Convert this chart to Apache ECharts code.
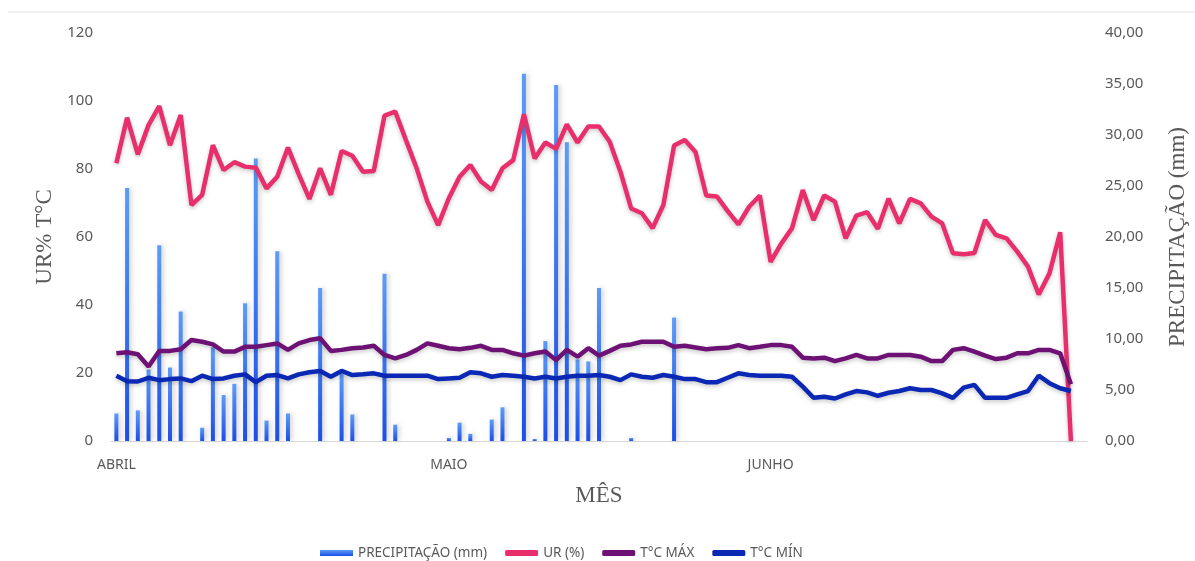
<!DOCTYPE html>
<html>
<head>
<meta charset="utf-8">
<title>UR, T°C e Precipitação</title>
<script src="https://cdn.jsdelivr.net/npm/echarts@6.0.0/dist/echarts.min.js"></script>
<style>
  html, body { margin: 0; padding: 0; background: #fff; }
  #chart { width: 1195px; height: 561px; }
</style>
</head>
<body>
<div id="chart"></div>
<script>
// dias do período (o último fica vazio, como na planilha)
const dias = Array.from({ length: 91 }, (_, i) => String(i + 1));
const mesInicio = [0, 31, 61];
const mesNome = ['ABRIL', 'MAIO', 'JUNHO'];

const precipitacao = [2.7, 24.8, 3.0, 7.0, 19.2, 7.2, 12.7, 0, 1.3, 9.2, 4.5, 5.6, 13.5, 27.7, 2.0, 18.6, 2.7, 0, 0, 15.0,
  0, 6.6, 2.6, 0, 0, 16.4, 1.6, 0, 0, 0, 0, 0.3, 1.8, 0.7, 0, 2.1, 3.3, 0, 36.0, 0.2,
  9.8, 34.9, 29.3, 8.0, 7.8, 15.0, 0, 0, 0.3, 0, 0, 0, 12.1, 0, 0, 0, 0, 0, 0, 0,
  0, 0, 0, 0, 0, 0, 0, 0, 0, 0, 0, 0, 0, 0, 0, 0, 0, 0, 0, 0,
  0, 0, 0, 0, 0, 0, 0, 0, 0, 0];

const ur = [81.7, 95.1, 84.3, 92.9, 98.5, 87, 95.9, 69.4, 72.4, 87, 79.7, 82, 80.7, 80.4, 74.3, 77.7, 86.3, 78.5, 71.2, 80.2,
  72.4, 85.3, 83.9, 79.2, 79.4, 95.7, 96.9, 88.5, 80.2, 70.4, 63.5, 71.4, 77.7, 81.2, 76.3, 73.8, 80.2, 82.6, 96.1, 83.1,
  87.8, 85.9, 93.1, 87.8, 92.5, 92.5, 88, 79.2, 68.4, 67, 62.6, 69.4, 86.9, 88.5, 85, 72.2, 71.9, 67.6, 63.7, 68.9,
  72.2, 52.7, 58.1, 62.6, 73.8, 65, 72.2, 70.4, 59.6, 66.3, 67.3, 62.4, 71.3, 64, 71.2, 69.9, 66, 64, 55.2, 54.9,
  55.3, 65, 60.6, 59.6, 55.7, 51.3, 43.1, 49.3, 61.4, 0];

const tMax = [25.8, 26.1, 25.5, 21.9, 26.5, 26.5, 27, 29.7, 29.2, 28.4, 26.3, 26.3, 27.7, 27.7, 28.2, 28.7, 26.8, 28.7, 29.7, 30.2,
  26.5, 26.8, 27.3, 27.5, 28, 25.3, 24.3, 25.3, 26.8, 28.7, 28, 27.3, 27, 27.4, 28, 26.8, 26.8, 25.8, 25.1, 25.8,
  26.3, 23.8, 26.8, 24.8, 27.3, 25.1, 26.5, 28, 28.4, 29.2, 29.2, 29.2, 27.7, 28, 27.5, 27, 27.3, 27.4, 28.2, 27.3,
  27.7, 28.2, 28.2, 27.7, 24.5, 24.3, 24.5, 23.5, 24.3, 25.3, 24.3, 24.3, 25.3, 25.3, 25.3, 24.8, 23.5, 23.5, 26.8, 27.3,
  26.3, 25.1, 24.1, 24.5, 25.8, 25.8, 26.8, 26.8, 25.8, 16.7];

const tMin = [19.2, 17.6, 17.5, 18.6, 17.9, 18.2, 18.4, 17.6, 19.2, 18.2, 18.4, 19.2, 19.6, 17.3, 19.2, 19.4, 18.4, 19.6, 20.2, 20.6,
  18.9, 20.6, 19.4, 19.6, 19.9, 19.2, 19.2, 19.2, 19.2, 19.2, 18.2, 18.4, 18.6, 20.2, 19.9, 18.9, 19.4, 19.2, 18.9, 18.4,
  18.9, 18.4, 18.9, 19.2, 19.2, 19.4, 18.9, 17.9, 19.6, 18.9, 18.6, 19.4, 18.9, 18.2, 18.2, 17.3, 17.3, 18.6, 19.9, 19.4,
  19.2, 19.2, 19.2, 18.9, 16, 12.7, 13, 12.5, 13.7, 14.7, 14.3, 13.3, 14.2, 14.7, 15.5, 15, 15, 14, 12.7, 15.7,
  16.5, 12.7, 12.7, 12.7, 13.7, 14.7, 19.2, 17, 15.5, 14.7];

const cinza = '#595959';
const serif = 'Liberation Serif';

const myChart = echarts.init(document.getElementById('chart'));

const lineShadow = {
  shadowColor: 'rgba(0,0,0,0.22)',
  shadowBlur: 4,
  shadowOffsetY: 2
};

myChart.setOption({
  animation: false,
  textStyle: { fontFamily: 'Noto Sans' },
  graphic: [
    {
      type: 'line',
      shape: { x1: 8, y1: 12, x2: 1195, y2: 12 },
      style: { stroke: '#e3e3e3', lineWidth: 1 },
      silent: true
    }
  ],
  legend: {
    left: 315,
    top: 541,
    itemWidth: 33,
    itemHeight: 6,
    itemGap: 18,
    textStyle: { color: cinza, fontSize: 13.5 },
    data: [
      { name: 'PRECIPITAÇÃO (mm)', icon: 'rect' },
      { name: 'UR (%)', icon: 'roundRect' },
      { name: 'T°C MÁX', icon: 'roundRect' },
      { name: 'T°C MÍN', icon: 'roundRect' }
    ]
  },
  grid: {
    left: 111,
    right: 108,
    top: 33,
    bottom: 120,
    outerBoundsMode: 'none'
  },
  xAxis: {
    type: 'category',
    data: dias,
    name: 'MÊS',
    nameLocation: 'middle',
    nameGap: 43,
    nameTextStyle: { fontFamily: serif, fontSize: 23, color: cinza },
    axisLine: { lineStyle: { color: '#d9d9d9' } },
    axisTick: { show: false },
    axisLabel: {
      interval: 0,
      margin: 17,
      color: cinza,
      fontSize: 14,
      formatter: function (v, idx) {
        const k = mesInicio.indexOf(idx);
        return k >= 0 ? mesNome[k] : '';
      }
    }
  },
  yAxis: [
    {
      type: 'value',
      min: 0,
      max: 120,
      interval: 20,
      name: 'UR% T°C',
      nameLocation: 'middle',
      nameRotate: 90,
      nameGap: 51,
      nameTextStyle: { fontFamily: serif, fontSize: 23, color: cinza },
      axisLine: { show: false },
      axisTick: { show: false },
      splitLine: { show: false },
      axisLabel: { color: cinza, fontSize: 15, margin: 18 }
    },
    {
      type: 'value',
      min: 0,
      max: 40,
      interval: 5,
      name: 'PRECIPITAÇÃO (mm)',
      nameLocation: 'middle',
      nameRotate: 90,
      nameGap: 79,
      nameTextStyle: { fontFamily: serif, fontSize: 23, color: cinza },
      axisLine: { show: false },
      axisTick: { show: false },
      splitLine: { show: false },
      axisLabel: {
        color: cinza,
        fontSize: 15,
        margin: 18,
        formatter: function (v) {
          return v.toFixed(2).replace('.', ',');
        }
      }
    }
  ],
  series: [
    {
      name: 'PRECIPITAÇÃO (mm)',
      type: 'bar',
      yAxisIndex: 1,
      barWidth: 4,
      itemStyle: {
        color: new echarts.graphic.LinearGradient(0, 0, 0, 1, [
          { offset: 0, color: '#5c9cf8' },
          { offset: 1, color: '#1c4fe6' }
        ]),
        shadowColor: 'rgba(0,0,0,0.2)',
        shadowBlur: 5,
        shadowOffsetX: 2
      },
      data: precipitacao
    },
    {
      name: 'UR (%)',
      type: 'line',
      symbol: 'none',
      itemStyle: { color: '#e92f6b' },
      lineStyle: Object.assign({ color: '#e92f6b', width: 4.5 }, lineShadow),
      data: ur
    },
    {
      name: 'T°C MÁX',
      type: 'line',
      symbol: 'none',
      itemStyle: { color: '#6e1174' },
      lineStyle: Object.assign({ color: '#6e1174', width: 4.5 }, lineShadow),
      data: tMax
    },
    {
      name: 'T°C MÍN',
      type: 'line',
      symbol: 'none',
      itemStyle: { color: '#0a28b4' },
      lineStyle: Object.assign({ color: '#0a28b4', width: 4.5 }, lineShadow),
      data: tMin
    }
  ]
});

window.addEventListener('resize', () => {
  myChart.resize();
});
</script>
</body>
</html>
